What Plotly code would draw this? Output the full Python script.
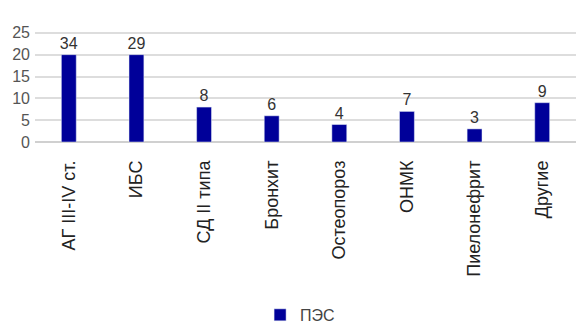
import plotly.graph_objects as go

categories = ["АГ III-IV ст.", "ИБС", "СД II типа", "Бронхит", "Остеопороз", "ОНМК", "Пиелонефрит", "Другие"]
values = [34, 29, 8, 6, 4, 7, 3, 9]
bar_heights = [20, 20, 8, 6, 4, 7, 3, 9]
y_ticks = [0, 5, 10, 15, 20, 25, 30]
y_ticktext = ["0", "5", "10", "15", "20", "25", ""]

fig = go.Figure()
fig.add_trace(go.Bar(
    x=categories, y=bar_heights, name="ПЭС",
    marker=dict(color="#000099"),
    width=0.22,
    text=[str(v) for v in values],
    textposition="outside",
    constraintext="none",
    textfont=dict(size=16, color="#333333", family="Liberation Sans, Arial"),
    cliponaxis=False,
))

fig.update_layout(
    width=585, height=326,
    margin=dict(l=35, r=9, t=11, b=184, autoexpand=False),
    plot_bgcolor="white", paper_bgcolor="white",
    font=dict(family="Liberation Sans, Arial", color="#444444"),
    showlegend=True,
    legend=dict(orientation="h", x=0.49, xanchor="center", yref="container",
                y=0.034, yanchor="middle", itemwidth=30,
                font=dict(size=16, color="#444444")),
    xaxis=dict(tickangle=-90, tickfont=dict(size=18, color="#222222"), showgrid=False,
               ticks="", showline=False, automargin=False, ticklabelstandoff=14),
    yaxis=dict(range=[0, 30], tickvals=y_ticks, ticktext=y_ticktext,
               tickfont=dict(size=16, color="#555555"),
               showgrid=True, gridcolor="#dddddd", gridwidth=1.5,
               zeroline=True, zerolinecolor="#d0d0d0", zerolinewidth=1.5,
               ticks="", ticklabelstandoff=4, automargin=False),
    bargap=0.78,
)

fig.write_html("out.html")
